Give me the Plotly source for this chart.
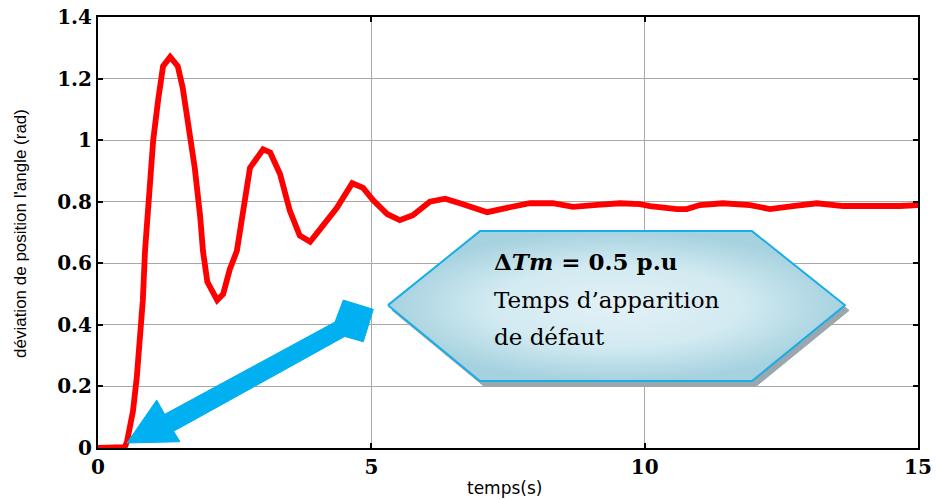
import plotly.graph_objects as go

# ---- data ----
temps = [0, 0.3, 0.49, 0.53, 0.64, 0.71, 0.77, 0.82, 0.86, 0.95,
         1.01, 1.10, 1.19, 1.32, 1.46, 1.55, 1.68, 1.77, 1.87, 1.92,
         2.00, 2.18, 2.29, 2.41, 2.54, 2.65, 2.78, 3.02, 3.15, 3.33,
         3.51, 3.69, 3.88, 4.06, 4.37, 4.65, 4.85, 5.03, 5.29, 5.52,
         5.76, 6.07, 6.35, 6.62, 7.12, 7.48, 7.90, 8.32, 8.69, 9.13,
         9.55, 9.91, 10.10, 10.59, 10.77, 11.01, 11.43, 11.93, 12.29, 12.71,
         13.15, 13.63, 14.36, 14.67, 15.0]
deviation = [0, 0, 0.003, 0.02, 0.12, 0.23, 0.34, 0.48, 0.64, 0.86,
             1.00, 1.13, 1.24, 1.27, 1.24, 1.17, 1.02, 0.91, 0.75, 0.64,
             0.54, 0.48, 0.50, 0.58, 0.64, 0.76, 0.91, 0.97, 0.96, 0.89,
             0.77, 0.69, 0.67, 0.71, 0.78, 0.86, 0.845, 0.805, 0.76, 0.74,
             0.756, 0.80, 0.81, 0.795, 0.766, 0.78, 0.795, 0.795, 0.783, 0.79,
             0.795, 0.792, 0.786, 0.776, 0.776, 0.789, 0.795, 0.789, 0.776, 0.786,
             0.795, 0.786, 0.783, 0.786, 0.789]

x_ticks = [0, 5, 10, 15]
x_tick_labels = ["0", "5", "10", "15"]
y_ticks = [0, 0.2, 0.4, 0.6, 0.8, 1.0, 1.2, 1.4]
y_tick_labels = ["0", "0.2", "0.4", "0.6", "0.8", "1", "1.2", "1.4"]

# callout geometry (in axis units)
hex_x = [5.305, 6.987, 11.963, 13.664, 11.963, 6.987, 5.305]
hex_y = [0.464, 0.7045, 0.7045, 0.464, 0.2175, 0.2175, 0.464]
shadow_dx, shadow_dy = 0.075, -0.017

# arrow geometry (axis units): head + shaft + square tail
arrow_x = [0.530, 1.074, 1.220, 4.335, 4.487, 5.036, 4.853, 4.514, 1.383, 1.500, 0.530]
arrow_y = [0.0162, 0.1558, 0.1094, 0.4091, 0.4805, 0.4503, 0.3451, 0.3623, 0.0542, 0.0204, 0.0162]

fig = go.Figure()

# shadow of callout
fig.add_trace(go.Scatter(
    x=[v + shadow_dx for v in hex_x], y=[v + shadow_dy for v in hex_y],
    mode="lines", fill="toself", fillcolor="#9aa7ae",
    line=dict(color="#9aa7ae", width=1), hoverinfo="skip", showlegend=False))

# callout hexagon with gradient
fig.add_trace(go.Scatter(
    x=hex_x, y=hex_y, mode="lines", fill="toself",
    fillgradient=dict(type="radial",
                      colorscale=[[0, "#e2f1f6"], [0.55, "#d2eaf1"], [1, "#a6d2df"]]),
    line=dict(color="#1aaee6", width=2), hoverinfo="skip", showlegend=False))

# main curve
fig.add_trace(go.Scatter(
    x=temps, y=deviation, mode="lines",
    line=dict(color="#ff0000", width=5.8), showlegend=False))

# blue arrow
fig.add_trace(go.Scatter(
    x=arrow_x, y=arrow_y, mode="lines", fill="toself", fillcolor="#00b0f0",
    line=dict(color="#00b0f0", width=1), hoverinfo="skip", showlegend=False))

tick_font = dict(family="DejaVu Serif", size=20, color="black", weight="bold")

fig.update_xaxes(
    range=[0, 15], tickvals=x_ticks, ticktext=x_tick_labels,
    showgrid=True, gridcolor="#a8a8a8", gridwidth=1,
    showline=True, linecolor="black", linewidth=2, mirror="ticks",
    ticks="inside", ticklen=5, tickcolor="black", tickwidth=1.5,
    tickfont=tick_font, zeroline=False, automargin=False)
fig.update_yaxes(
    range=[0, 1.4], tickvals=y_ticks, ticktext=y_tick_labels,
    showgrid=True, gridcolor="#a8a8a8", gridwidth=1,
    showline=True, linecolor="black", linewidth=2, mirror="ticks",
    ticks="inside", ticklen=5, tickcolor="black", tickwidth=1.5,
    tickfont=tick_font, zeroline=False, automargin=False)

serif = "DejaVu Serif"
annots = [
    dict(x=7.207, y=0.605, xref="x", yref="y", xanchor="left", yanchor="middle",
         text="<b>Δ<i>Tm</i> = 0.5 p.u</b>", showarrow=False,
         font=dict(family=serif, size=23, color="black")),
    dict(x=7.207, y=0.48, xref="x", yref="y", xanchor="left", yanchor="middle",
         text="Temps d’apparition", showarrow=False,
         font=dict(family=serif, size=23, color="black")),
    dict(x=7.207, y=0.36, xref="x", yref="y", xanchor="left", yanchor="middle",
         text="de défaut", showarrow=False,
         font=dict(family=serif, size=23, color="black")),
    dict(x=0, y=0.4965, xref="paper", yref="paper", xanchor="center", yanchor="middle",
         xshift=-78, textangle=-90, text="déviation de position l'angle (rad)",
         showarrow=False, font=dict(family="Liberation Sans", size=17, color="black")),
    dict(x=0.496, y=-0.0928, xref="paper", yref="paper", xanchor="center", yanchor="middle",
         text="temps(s)", showarrow=False,
         font=dict(family="DejaVu Sans", size=17, color="black")),
]

fig.update_layout(
    width=936, height=500,
    margin=dict(l=98, r=18, t=17, b=52, autoexpand=False),
    paper_bgcolor="white", plot_bgcolor="white",
    annotations=annots, showlegend=False)

fig.write_html("out.html",
               config={"displayModeBar": False},
               post_script="document.body.style.margin='0';document.body.style.padding='0';")
